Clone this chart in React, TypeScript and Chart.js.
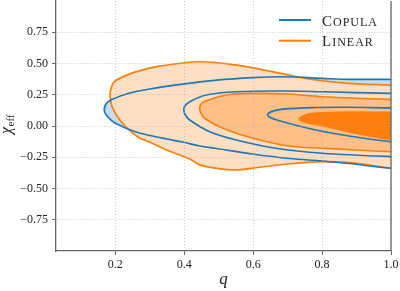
import React, { useEffect, useRef } from 'react';
import { Chart, registerables } from 'chart.js';

Chart.register(...registerables);

type Pt = [number, number];

// Contours in (q, chi_eff). Each closed outline starts and ends just past q = 1,
// so the part along the right edge is clipped away by the plot area.
const copulaOuter: Pt[] = [
  [1.06, 0.373], [1.0, 0.373], [0.878, 0.373], [0.8, 0.381], [0.685, 0.394], [0.598, 0.387],
  [0.494, 0.367], [0.396, 0.335], [0.3, 0.296], [0.237, 0.26], [0.19, 0.212], [0.174, 0.18],
  [0.168, 0.135], [0.172, 0.095], [0.185, 0.055], [0.199, 0.024], [0.251, -0.04], [0.3, -0.076],
  [0.349, -0.104], [0.396, -0.128], [0.445, -0.16], [0.494, -0.18], [0.598, -0.224], [0.705, -0.26],
  [0.8, -0.28], [0.878, -0.3], [1.0, -0.338], [1.06, -0.338], [1.06, 0.373],
];
const copulaMiddle: Pt[] = [
  [1.06, 0.261], [1.0, 0.261], [0.801, 0.274], [0.686, 0.28], [0.551, 0.274], [0.464, 0.248],
  [0.416, 0.194], [0.402, 0.16], [0.399, 0.128], [0.403, 0.09], [0.416, 0.048], [0.474, -0.046],
  [0.551, -0.112], [0.666, -0.178], [0.801, -0.218], [1.0, -0.245], [1.06, -0.245], [1.06, 0.261],
];
const copulaInner: Pt[] = [
  [1.06, 0.145], [1.0, 0.145], [0.878, 0.15], [0.782, 0.148], [0.686, 0.135], [0.653, 0.115],
  [0.642, 0.088], [0.653, 0.064], [0.686, 0.034], [0.782, -0.032], [0.878, -0.08], [1.0, -0.125],
  [1.06, -0.125], [1.06, 0.145],
];
const linearOuter: Pt[] = [
  [1.06, 0.327], [1.0, 0.327], [0.878, 0.341], [0.8, 0.362], [0.725, 0.395], [0.655, 0.435],
  [0.552, 0.487], [0.445, 0.514], [0.329, 0.479], [0.257, 0.431], [0.214, 0.383], [0.196, 0.351],
  [0.188, 0.304], [0.185, 0.24], [0.19, 0.16], [0.205, 0.08], [0.228, 0.0], [0.266, -0.088],
  [0.309, -0.14], [0.349, -0.192], [0.416, -0.264], [0.445, -0.311], [0.494, -0.338], [0.552, -0.351],
  [0.618, -0.33], [0.725, -0.298], [0.8, -0.285], [0.878, -0.293], [0.936, -0.312], [1.0, -0.338],
  [1.06, -0.338], [1.06, 0.327],
];
const linearMiddle: Pt[] = [
  [1.06, 0.213], [1.0, 0.213], [0.801, 0.234], [0.705, 0.256], [0.599, 0.261], [0.522, 0.248],
  [0.464, 0.202], [0.449, 0.175], [0.445, 0.141], [0.449, 0.1], [0.459, 0.062], [0.512, -0.018],
  [0.599, -0.098], [0.705, -0.16], [0.801, -0.178], [0.898, -0.192], [1.0, -0.205], [1.06, -0.205],
  [1.06, 0.213],
];
const linearInner: Pt[] = [
  [1.06, 0.109], [1.0, 0.109], [0.85, 0.11], [0.77, 0.1], [0.745, 0.08], [0.734, 0.055],
  [0.75, 0.03], [0.8, 0.005], [0.898, -0.058], [1.0, -0.105], [1.06, -0.105], [1.06, 0.109],
];

const xTicks = [0.2, 0.4, 0.6, 0.8, 1.0];
const yTicks = [-0.75, -0.5, -0.25, 0, 0.25, 0.5, 0.75];
const legendLabels = ['Copula', 'Linear'];

const BLUE = '#1f77b4';
const BLUE_LIGHT = 'rgb(199,221,236)';
const ORANGE = '#ff7f0e';
const ORANGE_MID = 'rgb(255,191,135)';
const ORANGE_LIGHT = 'rgb(255,223,195)';
const AXIS = '#666666';
const GRID = 'rgba(170,170,170,0.75)';
const SERIF = "'Liberation Serif', 'DejaVu Serif', serif";

const toXY = (pts: Pt[]) => pts.map(([x, y]) => ({ x, y }));

function drawSmallCaps(ctx: CanvasRenderingContext2D, text: string, x: number, y: number) {
  const first = text[0].toUpperCase();
  const rest = text.slice(1).toUpperCase();
  ctx.font = `15px ${SERIF}`;
  ctx.fillText(first, x, y);
  const w = ctx.measureText(first).width + 1;
  ctx.font = `12px ${SERIF}`;
  (ctx as any).letterSpacing = '1px';
  ctx.fillText(rest, x + w, y);
  (ctx as any).letterSpacing = '0px';
}

const decorations = {
  id: 'decorations',
  afterDraw(chart: Chart) {
    const { ctx, chartArea: a } = chart;
    ctx.save();
    // right spine
    ctx.strokeStyle = AXIS;
    ctx.lineWidth = 1.3;
    ctx.beginPath();
    ctx.moveTo(a.right, a.top);
    ctx.lineTo(a.right, a.bottom);
    ctx.stroke();

    // legend
    const colors = [BLUE, ORANGE];
    legendLabels.forEach((label, i) => {
      const y = a.top + 19 + i * 20.7;
      ctx.strokeStyle = colors[i];
      ctx.lineWidth = 2;
      ctx.beginPath();
      ctx.moveTo(a.right - 112, y);
      ctx.lineTo(a.right - 80, y);
      ctx.stroke();
      ctx.fillStyle = '#222';
      ctx.textBaseline = 'alphabetic';
      ctx.textAlign = 'left';
      drawSmallCaps(ctx, label, a.right - 69, y + 5.5);
    });

    // axis titles
    ctx.fillStyle = '#222';
    ctx.textAlign = 'center';
    ctx.textBaseline = 'alphabetic';
    ctx.font = `italic 17px ${SERIF}`;
    ctx.fillText('q', (a.left + a.right) / 2, 284);

    ctx.translate(11, 134);
    ctx.rotate(-Math.PI / 2);
    ctx.textAlign = 'left';
    ctx.font = `italic 16px ${SERIF}`;
    ctx.fillText('χ', 0, 0);
    const w = ctx.measureText('χ').width;
    ctx.font = `11px ${SERIF}`;
    ctx.fillText('eff', w + 0.5, 3);
    ctx.restore();
  },
};

const lineBase = { pointRadius: 0, pointHoverRadius: 0, tension: 0.35, borderWidth: 1.7 };

export default function App() {
  const canvasRef = useRef<HTMLCanvasElement | null>(null);

  useEffect(() => {
    if (!canvasRef.current) return;
    const chart = new Chart(canvasRef.current, {
      type: 'line',
      data: {
        datasets: [
          { ...lineBase, data: toXY(copulaInner), borderColor: BLUE, fill: false, order: 1 },
          { ...lineBase, data: toXY(copulaMiddle), borderColor: BLUE, fill: false, order: 2 },
          { ...lineBase, data: toXY(copulaOuter), borderColor: BLUE, fill: false, order: 3 },
          { ...lineBase, data: toXY(linearInner), borderColor: ORANGE, backgroundColor: ORANGE, fill: 'shape', order: 4 },
          { ...lineBase, data: toXY(linearMiddle), borderColor: ORANGE, backgroundColor: ORANGE_MID, fill: 'shape', order: 5 },
          { ...lineBase, data: toXY(linearOuter), borderColor: ORANGE, backgroundColor: ORANGE_LIGHT, fill: 'shape', order: 6 },
          { ...lineBase, data: toXY(copulaOuter), borderWidth: 0, borderColor: 'rgba(0,0,0,0)', backgroundColor: BLUE_LIGHT, fill: 'shape', order: 7 },
        ] as any,
      },
      options: {
        animation: false,
        responsive: false,
        devicePixelRatio: 1,
        events: [],
        layout: { padding: { top: 1, right: 9, bottom: 0, left: 0 } },
        plugins: { legend: { display: false }, tooltip: { enabled: false } },
        scales: {
          x: {
            type: 'linear',
            min: 0.028,
            max: 1.0,
            afterBuildTicks: (s: any) => { s.ticks = xTicks.map((v) => ({ value: v })); },
            afterFit: (s: any) => { s.height = 40; s.paddingLeft = 0; s.paddingRight = 0; },
            ticks: {
              autoSkip: false,
              maxRotation: 0,
              padding: 3,
              color: '#222',
              font: { family: SERIF, size: 12 },
              callback: (v: any) => Number(v).toFixed(1),
            },
            grid: { color: GRID, lineWidth: 0.8, tickColor: AXIS, tickLength: 4, tickWidth: 1, z: 1 },
            border: { color: AXIS, width: 1.3, dash: [1, 2], z: 2 },
          },
          y: {
            type: 'linear',
            min: -1,
            max: 1,
            afterBuildTicks: (s: any) => { s.ticks = yTicks.map((v) => ({ value: v })); },
            afterFit: (s: any) => { s.width = 56; s.paddingTop = 0; s.paddingBottom = 0; },
            ticks: {
              autoSkip: false,
              padding: 4,
              color: '#222',
              font: { family: SERIF, size: 12 },
              callback: (v: any) => (Number(v) < 0 ? '\u2212' : '') + Math.abs(Number(v)).toFixed(2),
            },
            grid: { color: GRID, lineWidth: 0.8, tickColor: AXIS, tickLength: 4, tickWidth: 1, z: 1 },
            border: { color: AXIS, width: 1.3, dash: [1, 2], z: 2 },
          },
        },
      } as any,
      plugins: [decorations],
    });
    return () => chart.destroy();
  }, []);

  return (
    <div style={{ position: 'fixed', left: 0, top: 0, width: 400, height: 291, background: '#fff' }}>
      <canvas ref={canvasRef} width={400} height={291} style={{ display: 'block' }} />
    </div>
  );
}
